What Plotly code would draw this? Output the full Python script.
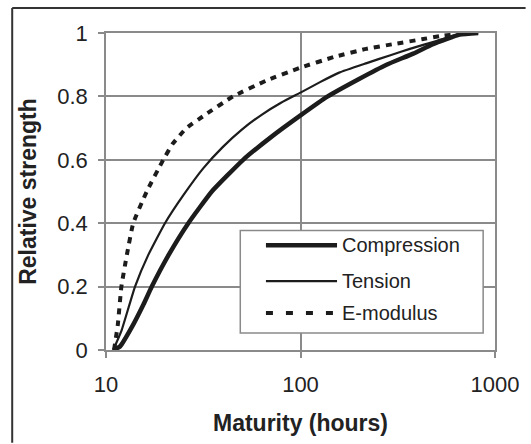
import plotly.graph_objects as go

# ---- data ----
comp_x = [10.9, 11.8, 13.8, 15.6, 17.2, 21, 26.5, 35, 50.7, 70, 100, 138, 200, 277, 380, 480, 658, 820]
comp_y = [0, 0.011, 0.08, 0.144, 0.2, 0.3, 0.4, 0.5, 0.6, 0.67, 0.74, 0.8, 0.855, 0.9, 0.935, 0.965, 0.995, 1.0]

tens_x = [10.9, 12, 14.1, 16.5, 20.1, 25.1, 31.6, 39.8, 50.1, 63.1, 79.4, 100, 126, 158, 219, 290, 365, 500, 650, 820]
tens_y = [0, 0.06, 0.2, 0.3, 0.4, 0.49, 0.573, 0.64, 0.696, 0.742, 0.78, 0.812, 0.845, 0.875, 0.905, 0.93, 0.95, 0.975, 0.995, 1.0]

emod_x = [11.0, 11.5, 12.0, 12.8, 13.8, 16.2, 19.7, 22, 25.9, 32, 45, 66.8, 99, 150, 218, 300, 420, 520, 720]
emod_y = [0, 0.08, 0.2, 0.3, 0.4, 0.5, 0.6, 0.65, 0.7, 0.74, 0.8, 0.85, 0.89, 0.925, 0.95, 0.965, 0.98, 0.99, 1.0]

series_names = ["Compression", "Tension", "E-modulus"]
x_ticks = [10, 100, 1000]
x_ticktext = ["10", "100", "1000"]
y_ticks = [0, 0.2, 0.4, 0.6, 0.8, 1]
y_ticktext = ["0", "0.2", "0.4", "0.6", "0.8", "1"]

INK = "#1c1c1c"
GRID = "#8a8a8a"
FONT = "Liberation Sans, Arial, sans-serif"

fig = go.Figure()
fig.add_trace(go.Scatter(x=comp_x, y=comp_y, mode="lines", name=series_names[0],
                         line=dict(color=INK, width=4.5, shape="spline", smoothing=0.4)))
fig.add_trace(go.Scatter(x=tens_x, y=tens_y, mode="lines", name=series_names[1],
                         line=dict(color=INK, width=2.2, shape="spline", smoothing=0.4)))
fig.add_trace(go.Scatter(x=emod_x, y=emod_y, mode="lines", name=series_names[2],
                         line=dict(color=INK, width=4, dash="6px,6px", shape="spline", smoothing=0.4)))

# plot area in pixels: x 106..500, y 33..351
L, R, T, B = 106, 500, 33, 351
W, H = R - L, B - T
def px(x): return (x - L) / W
def py(y): return (B - y) / H

shapes = []
# outer frame (left and top edges)
shapes.append(dict(type="line", xref="paper", yref="paper", x0=px(11), x1=px(531), y0=py(8), y1=py(8),
                   line=dict(color="#333333", width=2)))
shapes.append(dict(type="line", xref="paper", yref="paper", x0=px(11), x1=px(11), y0=py(8), y1=py(444),
                   line=dict(color="#333333", width=2)))
# legend box
shapes.append(dict(type="rect", xref="paper", yref="paper", x0=px(242), x1=px(488), y0=py(231), y1=py(334),
                   line=dict(color=GRID, width=1.5), fillcolor="white", layer="above"))
leg_rows = [246, 282, 314]
leg_styles = [dict(width=4.5), dict(width=2.2), dict(width=4, dash="7px,13px")]
annotations = []
for name, row, st in zip(series_names, leg_rows, leg_styles):
    shapes.append(dict(type="line", xref="paper", yref="paper", x0=px(268), x1=px(340), y0=py(row), y1=py(row),
                       line=dict(color=INK, **st), layer="above"))
    annotations.append(dict(xref="paper", yref="paper", x=px(343), y=py(row), text=name, showarrow=False,
                            xanchor="left", yanchor="middle", font=dict(size=20, color="#222222", family=FONT)))

fig.update_layout(
    width=531, height=444,
    margin=dict(l=L, r=531 - R, t=T, b=444 - B),
    paper_bgcolor="white", plot_bgcolor="white",
    showlegend=False,
    font=dict(family=FONT, color="#222222", size=22),
    shapes=shapes, annotations=annotations,
)
fig.update_xaxes(type="log", range=[1, 3], tickvals=x_ticks, ticktext=x_ticktext,
                 showgrid=True, gridcolor=GRID, gridwidth=1.5,
                 showline=True, linecolor=GRID, linewidth=1.5, mirror=True,
                 ticks="outside", ticklen=6, tickcolor=GRID, tickwidth=1.5,
                 tickfont=dict(size=22), ticklabelstandoff=8,
                 title=dict(text="<b>Maturity (hours)</b>", font=dict(size=23), standoff=19),
                 zeroline=False)
fig.update_yaxes(range=[0, 1], tickvals=y_ticks, ticktext=y_ticktext,
                 showgrid=True, gridcolor=GRID, gridwidth=1.5,
                 showline=True, linecolor=GRID, linewidth=1.5, mirror=True,
                 ticks="outside", ticklen=6, tickcolor=GRID, tickwidth=1.5,
                 tickfont=dict(size=22), ticklabelstandoff=6,
                 title=dict(text="<b>Relative strength</b>", font=dict(size=23), standoff=14),
                 zeroline=False)

fig.write_html("out.html")
